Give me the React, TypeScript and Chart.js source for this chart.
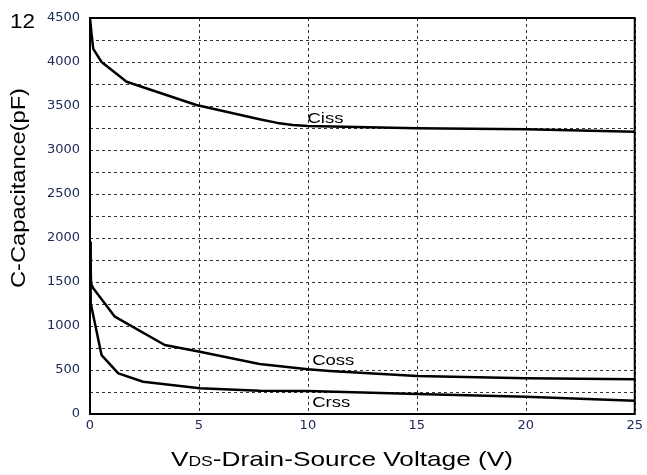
import React, { useEffect, useRef } from "react";
import { Chart, registerables } from "chart.js";

Chart.register(...registerables);

// ---- data ----
const cissX = [0, 0.08, 0.15, 0.53, 1.68, 4.88, 7.78, 8.6, 9.3, 10, 15, 20, 25];
const cissY = [4500, 4300, 4150, 4000, 3776, 3511, 3349, 3308, 3285, 3273, 3247, 3235, 3208];

const cossX = [0, 0.05, 0.15, 1.14, 3.43, 5.04, 7.78, 10, 11, 15, 20, 25];
const cossY = [1950, 1480, 1428, 1106, 784, 708, 568, 508, 490, 432, 405, 394];

const crssX = [0, 0.03, 0.53, 1.3, 2.44, 5.04, 7.78, 10, 15, 20, 25];
const crssY = [1950, 1260, 670, 462, 367, 292, 265, 261, 227, 197, 151];

const seriesNames = ["Ciss", "Coss", "Crss"];
// label anchor points in data units (left/baseline)
const labelX = [9.98, 10.2, 10.2];
const labelY = [3307, 557, 80];

const xTickStep = 5;
const yGridStep = 250;
const yLabelStep = 500;
const xMin = 0, xMax = 25, yMin = 0, yMax = 4500;

const yTitle = "C-Capacitance(pF)";
const xTitleMain = "V";
const xTitleSub = "DS";
const xTitleRest = "-Drain-Source Voltage (V)";
const cornerText = "12";

const toPoints = (xs: number[], ys: number[]) => xs.map((x, i) => ({ x, y: ys[i] }));

const TITLE_FONT = "'Liberation Sans', Arial, sans-serif";

const gridPlugin = {
  id: "dashGrid",
  beforeDatasetsDraw(chart: any) {
    const { ctx, chartArea, scales } = chart;
    ctx.save();
    ctx.strokeStyle = "#333";
    ctx.lineWidth = 1;
    ctx.setLineDash([3, 3]);
    scales.y.ticks.forEach((t: any) => {
      const y = Math.round(scales.y.getPixelForValue(t.value)) + 0.5;
      ctx.beginPath();
      ctx.moveTo(chartArea.left, y);
      ctx.lineTo(chartArea.right, y);
      ctx.stroke();
    });
    scales.x.ticks.forEach((t: any) => {
      const x = Math.round(scales.x.getPixelForValue(t.value)) + 0.5;
      ctx.beginPath();
      ctx.moveTo(x, chartArea.top);
      ctx.lineTo(x, chartArea.bottom);
      ctx.stroke();
    });
    ctx.restore();
  },
};

const overlayPlugin = {
  id: "overlay",
  afterDraw(chart: any) {
    const { ctx, chartArea, scales } = chart;
    ctx.save();
    // frame
    ctx.strokeStyle = "#000";
    ctx.lineWidth = 2;
    ctx.setLineDash([]);
    ctx.strokeRect(chartArea.left, chartArea.top, chartArea.right - chartArea.left, chartArea.bottom - chartArea.top);

    // series labels
    ctx.fillStyle = "#000";
    ctx.font = `14px ${TITLE_FONT}`;
    ctx.textAlign = "left";
    ctx.textBaseline = "alphabetic";
    seriesNames.forEach((name, i) => {
      const px = scales.x.getPixelForValue(labelX[i]);
      const py = scales.y.getPixelForValue(labelY[i]);
      ctx.save();
      ctx.translate(px, py);
      ctx.scale(1.32, 1);
      ctx.fillText(name, 0, 0);
      ctx.restore();
    });

    // x title with subscript
    const parts = [
      { t: xTitleMain, s: 21 },
      { t: xTitleSub, s: 14 },
      { t: xTitleRest, s: 21 },
    ];
    let natural = 0;
    parts.forEach((p) => {
      ctx.font = `${p.s}px ${TITLE_FONT}`;
      natural += ctx.measureText(p.t).width;
    });
    const targetW = 342;
    const sx = targetW / natural;
    ctx.save();
    ctx.translate(171, 466);
    ctx.scale(sx, 1);
    let cx = 0;
    parts.forEach((p) => {
      ctx.font = `${p.s}px ${TITLE_FONT}`;
      ctx.fillText(p.t, cx, 0);
      cx += ctx.measureText(p.t).width;
    });
    ctx.restore();

    // y title
    ctx.font = `21px ${TITLE_FONT}`;
    const yw = ctx.measureText(yTitle).width;
    ctx.save();
    ctx.translate(25, 188);
    ctx.rotate(-Math.PI / 2);
    ctx.scale(200 / yw, 1);
    ctx.textAlign = "center";
    ctx.fillText(yTitle, 0, 0);
    ctx.restore();

    // corner number
    ctx.font = `20px ${TITLE_FONT}`;
    const cw = ctx.measureText(cornerText).width;
    ctx.save();
    ctx.translate(10, 28);
    ctx.scale(25 / cw, 1);
    ctx.textAlign = "left";
    ctx.fillText(cornerText, 0, 0);
    ctx.restore();

    ctx.restore();
  },
};

export default function App() {
  const ref = useRef<HTMLCanvasElement | null>(null);
  useEffect(() => {
    if (!ref.current) return;
    const lineDs = (label: string, xs: number[], ys: number[]) => ({
      label,
      data: toPoints(xs, ys),
      borderColor: "#000",
      backgroundColor: "#000",
      borderWidth: 2.5,
      pointRadius: 0,
      tension: 0,
      borderJoinStyle: "round" as const,
      fill: false,
    });
    const chart = new Chart(ref.current, {
      type: "line",
      data: {
        datasets: [
          lineDs(seriesNames[0], cissX, cissY),
          lineDs(seriesNames[1], cossX, cossY),
          lineDs(seriesNames[2], crssX, crssY),
        ],
      },
      options: {
        animation: false,
        responsive: false,
        maintainAspectRatio: false,
        layout: { padding: { top: 18, right: 11, left: 0, bottom: 0 } },
        plugins: { legend: { display: false }, tooltip: { enabled: false } },
        scales: {
          x: {
            type: "linear",
            min: xMin,
            max: xMax,
            afterFit: (s: any) => { s.height = 61; },
            ticks: {
              stepSize: xTickStep,
              color: "#202a5a",
              font: { family: "'DejaVu Sans'", size: 13 },
              padding: 4,
              maxRotation: 0,
            },
            grid: { display: false, drawTicks: false },
            border: { display: false },
          },
          y: {
            type: "linear",
            min: yMin,
            max: yMax,
            afterFit: (s: any) => { s.width = 90; },
            ticks: {
              stepSize: yGridStep,
              autoSkip: false,
              color: "#202a5a",
              font: { family: "'DejaVu Sans'", size: 13 },
              padding: 10,
              callback: (v: any) => (Number(v) % yLabelStep === 0 ? String(v) : ""),
            },
            grid: { display: false, drawTicks: false },
            border: { display: false },
          },
        },
      },
      plugins: [gridPlugin, overlayPlugin],
    });
    return () => chart.destroy();
  }, []);
  return (
    <div style={{ position: "fixed", left: 0, top: 0, width: 647, height: 475, background: "#fff" }}>
      <canvas ref={ref} width={647} height={475} style={{ width: 647, height: 475 }} />
    </div>
  );
}
